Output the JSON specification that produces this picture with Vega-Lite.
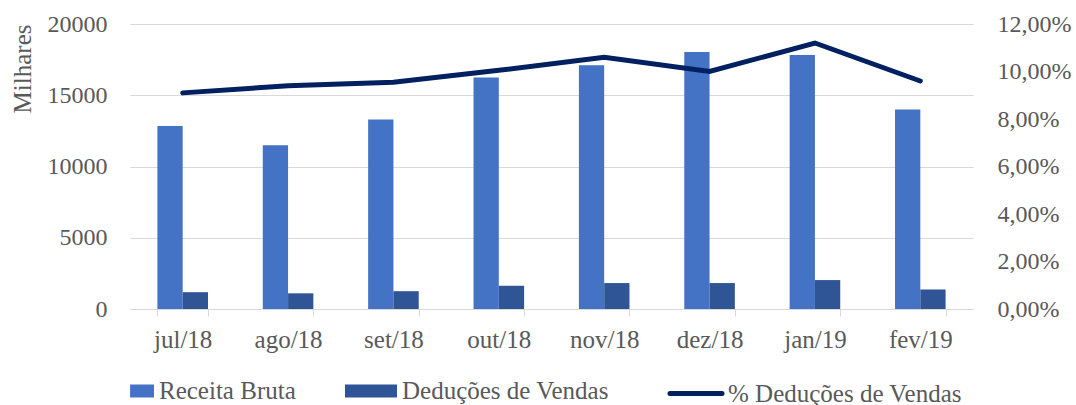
{
  "$schema": "https://vega.github.io/schema/vega-lite/v6.json",
  "width": 843,
  "height": 285,
  "autosize": {"type": "none"},
  "padding": {"left": 130, "top": 24, "right": 103, "bottom": 96},
  "background": "white",
  "config": {
    "view": {"stroke": null},
    "font": "Liberation Serif",
    "axis": {"labelFont": "Liberation Serif", "labelColor": "#595959", "titleFont": "Liberation Serif", "titleColor": "#595959", "titleFontWeight": "normal"},
    "legend": {"labelFont": "Liberation Serif", "labelColor": "#595959", "labelFontSize": 25, "padding": 0, "labelLimit": 400}
  },
  "datasets": {
    "barras": [
      {"mes": "jul/18", "serie": "Receita Bruta", "valor": 12850},
      {"mes": "jul/18", "serie": "Deduções de Vendas", "valor": 1180},
      {"mes": "ago/18", "serie": "Receita Bruta", "valor": 11500},
      {"mes": "ago/18", "serie": "Deduções de Vendas", "valor": 1100},
      {"mes": "set/18", "serie": "Receita Bruta", "valor": 13300},
      {"mes": "set/18", "serie": "Deduções de Vendas", "valor": 1250},
      {"mes": "out/18", "serie": "Receita Bruta", "valor": 16250},
      {"mes": "out/18", "serie": "Deduções de Vendas", "valor": 1630},
      {"mes": "nov/18", "serie": "Receita Bruta", "valor": 17100},
      {"mes": "nov/18", "serie": "Deduções de Vendas", "valor": 1820},
      {"mes": "dez/18", "serie": "Receita Bruta", "valor": 18030},
      {"mes": "dez/18", "serie": "Deduções de Vendas", "valor": 1820},
      {"mes": "jan/19", "serie": "Receita Bruta", "valor": 17820},
      {"mes": "jan/19", "serie": "Deduções de Vendas", "valor": 2030},
      {"mes": "fev/19", "serie": "Receita Bruta", "valor": 14000},
      {"mes": "fev/19", "serie": "Deduções de Vendas", "valor": 1370}
    ],
    "linha": [
      {"mes": "jul/18", "pct": 0.091},
      {"mes": "ago/18", "pct": 0.094},
      {"mes": "set/18", "pct": 0.0955},
      {"mes": "out/18", "pct": 0.1005},
      {"mes": "nov/18", "pct": 0.106},
      {"mes": "dez/18", "pct": 0.1},
      {"mes": "jan/19", "pct": 0.112},
      {"mes": "fev/19", "pct": 0.096}
    ]
  },
  "layer": [
    {
      "data": {"name": "barras"},
      "mark": {"type": "bar"},
      "encoding": {
        "x": {
          "field": "mes", "type": "nominal",
          "sort": ["jul/18", "ago/18", "set/18", "out/18", "nov/18", "dez/18", "jan/19", "fev/19"],
          "scale": {"paddingInner": 0.52, "paddingOuter": 0.26},
          "axis": {"title": null, "labelAngle": 0, "labelFontSize": 25, "domainColor": "#D9D9D9", "tickColor": "#D9D9D9", "tickSize": 7, "tickBand": "extent", "labelPadding": 11}
        },
        "xOffset": {
          "field": "serie", "type": "nominal",
          "sort": ["Receita Bruta", "Deduções de Vendas"],
          "scale": {"paddingInner": 0, "paddingOuter": 0}
        },
        "y": {
          "field": "valor", "type": "quantitative",
          "scale": {"domain": [0, 20000], "nice": false},
          "axis": {"title": "Milhares", "values": [0, 5000, 10000, 15000, 20000], "format": "d", "labelFontSize": 24, "titleFontSize": 25, "domain": false, "ticks": false, "labelPadding": 23, "grid": true, "gridColor": "#D9D9D9", "gridWidth": 1, "titleAnchor": "end", "titlePadding": 12}
        },
        "color": {
          "field": "serie", "type": "nominal",
          "scale": {"domain": ["Receita Bruta", "Deduções de Vendas"], "range": ["#4472C4", "#2F5597"]},
          "legend": {
            "orient": "none", "legendX": -28, "legendY": 341, "direction": "horizontal", "title": null,
            "labelFont": "Liberation Serif", "labelFontSize": 25, "labelColor": "#595959", "labelLimit": 400,
            "symbolType": "M-1,-0.25H1V0.25H-1Z", "symbolSize": 2704, "symbolStrokeWidth": 0,
            "labelOffset": 5, "columnPadding": 49,
            "encode": {"symbols": {"update": {"shape": {"signal": "datum.label === 'Receita Bruta' ? 'M0.08,-0.25H1V0.25H0.08Z' : 'M-1,-0.25H1V0.25H-1Z'"}}}}
          }
        }
      }
    },
    {
      "data": {"name": "linha"},
      "mark": {"type": "line", "strokeWidth": 5, "strokeCap": "round", "strokeJoin": "miter"},
      "encoding": {
        "x": {"field": "mes", "type": "nominal", "sort": ["jul/18", "ago/18", "set/18", "out/18", "nov/18", "dez/18", "jan/19", "fev/19"]},
        "y": {
          "field": "pct", "type": "quantitative",
          "scale": {"domain": [0, 0.12], "nice": false},
          "axis": {"orient": "right", "title": null, "values": [0, 0.02, 0.04, 0.06, 0.08, 0.1, 0.12], "labelExpr": "replace(format(datum.value, '.2%'), '.', ',')", "domain": false, "ticks": false, "grid": false, "labelPadding": 24, "labelFontSize": 24}
        },
        "stroke": {
          "datum": "% Deduções de Vendas", "type": "nominal",
          "scale": {"range": ["#002060"]},
          "legend": {
            "orient": "none", "legendX": 537.5, "legendY": 341, "title": null,
            "labelFont": "Liberation Serif", "labelFontSize": 25, "labelColor": "#595959", "labelLimit": 400,
            "symbolType": "stroke", "symbolSize": 2704, "symbolStrokeWidth": 5, "labelOffset": 3.5,
            "encode": {"symbols": {"update": {"strokeCap": {"value": "round"}}}}
          }
        }
      }
    }
  ],
  "resolve": {"scale": {"y": "independent"}}
}
